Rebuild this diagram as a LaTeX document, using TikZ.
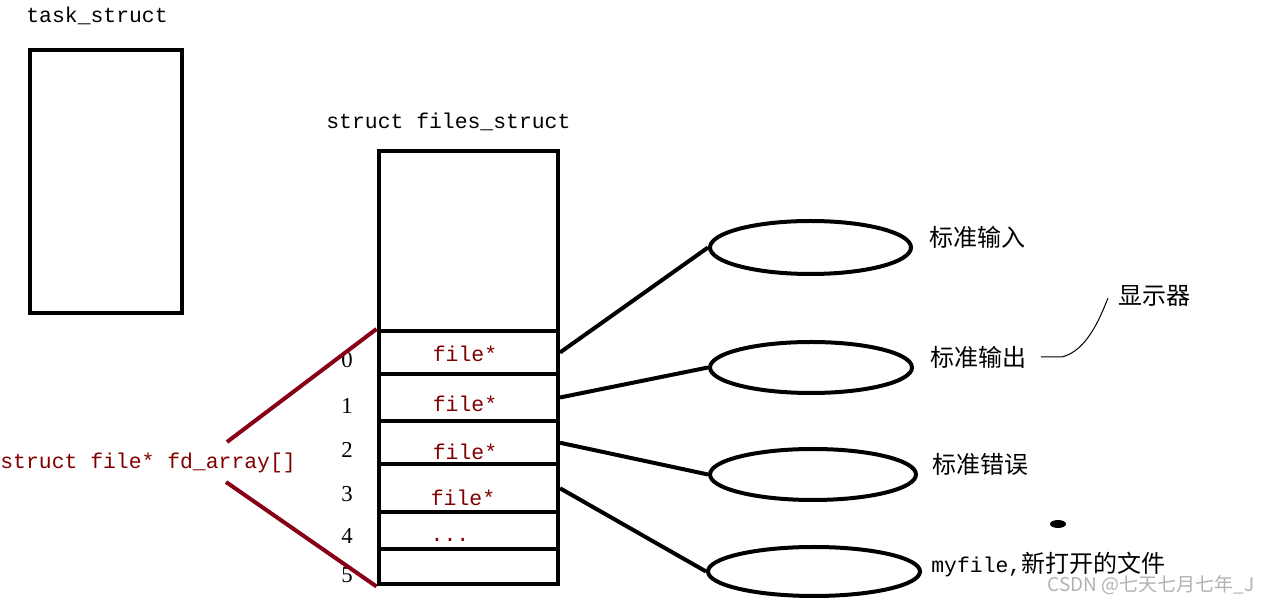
\documentclass[tikz,border=0pt]{standalone}
\usepackage{fontspec}
\setmainfont{Liberation Serif}
\setmonofont{Liberation Mono}
\newfontfamily\cjk{Noto Sans CJK SC}
\usepackage{xcolor}
\usepackage{tikz}
\usetikzlibrary{shapes.geometric, positioning, calc}
\definecolor{ptrred}{HTML}{880015}
\definecolor{ptrtext}{HTML}{800000}

\begin{document}
\begin{tikzpicture}[
    x=0.5pt, y=-0.5pt,
    box/.style={draw, line width=2pt, inner sep=0pt},
    slot/.style={box, minimum width=89.75pt, minimum height=#1},
    fileobj/.style 2 args={draw, ellipse, line width=2pt, inner sep=0pt,
                           minimum width=#1, minimum height=#2},
    code/.style={font=\ttfamily\fontsize{10.7pt}{12pt}\selectfont, inner sep=0pt},
    ptr/.style={code, text=ptrtext},
    idx/.style={font=\fontsize{11.4pt}{13pt}\selectfont, inner sep=0pt},
    zh/.style={font=\cjk\fontsize{12pt}{14pt}\selectfont, inner sep=0pt, anchor=west},
    link/.style={line width=2pt},
    redlink/.style={line width=2pt, draw=ptrred},
]
\useasboundingbox (0,0) rectangle (1270,603);

\node[code, anchor=west] (tasklbl) at (26,16) {task\_struct};
\node[box, minimum width=76.25pt, minimum height=131.5pt] (task) at (105.75,181.5) {};

\node[code, anchor=west] (fileslbl) at (326,122) {struct files\_struct};
\node[box, minimum width=89.75pt, minimum height=216.75pt] (files) at (468.25,367.75) {};
\node[slot=21.5pt] (fd0) at (468.25,352.5) {};
\node[slot=23.5pt] (fd1) at (468.25,397.5) {};
\node[slot=21.75pt] (fd2) at (468.25,442.75) {};
\node[slot=23.75pt] (fd3) at (468.25,488.25) {};
\node[slot=18.5pt] (fd4) at (468.25,530.5) {};
\node[slot=17.75pt] (fd5) at (468.25,566.75) {};

\node[ptr] (p0) at (465,354) {file*};
\node[ptr] (p1) at (465,404) {file*};
\node[ptr] (p2) at (465,452) {file*};
\node[ptr] (p3) at (463,498) {file*};
\node[ptr] (p4) at (450,540) {...};

\node[idx] (i0) at (347,360) {0};
\node[idx] (i1) at (347,406) {1};
\node[idx] (i2) at (347,450) {2};
\node[idx] (i3) at (347,494) {3};
\node[idx] (i4) at (347,536) {4};
\node[idx] (i5) at (347,575) {5};

\node[ptr, anchor=west] (fdarr) at (0,463) {struct file* fd\_array[]};
\coordinate (fdtop) at (227,442);
\coordinate (fdbot) at (226,482);
\draw[redlink] (fdtop) -- (fd0.north west);
\draw[redlink] (fdbot) -- (fd5.south west);

\node[fileobj={100.5pt}{26.5pt}] (stdin) at (810.5,247.5) {};
\node[fileobj={101pt}{25.5pt}] (stdout) at (811,367.5) {};
\node[fileobj={103pt}{25.5pt}] (stderr) at (813,474.5) {};
\node[fileobj={106pt}{24.5pt}] (myfile) at (814,571.5) {};

\draw[link] (fd0.east) -- (stdin.west);
\draw[link] (fd1.east) -- (stdout.west);
\draw[link] (fd2.east) -- (stderr.west);
\draw[link] (fd3.east) -- (myfile.west);

\node[zh, right=8pt of stdin.east, yshift=5.25pt] (inlbl) {标准输入};
\node[zh, right=8pt of stdout.east, yshift=5.25pt] (outlbl) {标准输出};
\node[zh, right=7pt of stderr.east, yshift=5.25pt] (errlbl) {标准错误};
\node[zh, right=4.5pt of myfile.east, yshift=3.25pt] (mylbl)
    {{\ttfamily\fontsize{10.7pt}{12pt}\selectfont myfile,}新打开的文件};

\node[zh] (display) at (1118,296) {显示器};
\draw[line width=0.5pt] ([xshift=7pt]outlbl.east) -- ++(21,0)
    .. controls +(25,-6) and +(-8,20) .. ([xshift=-5pt,yshift=-1pt]display.west);

\node[fill, ellipse, minimum width=8pt, minimum height=4pt, inner sep=0pt] (dot) at (1058,524) {};

\node[font=\cjk\fontsize{9.5pt}{11pt}\selectfont, text=gray!60, anchor=east, inner sep=0pt]
    (mark) at (1255,585) {CSDN @七天七月七年\_J};
\end{tikzpicture}
\end{document}
